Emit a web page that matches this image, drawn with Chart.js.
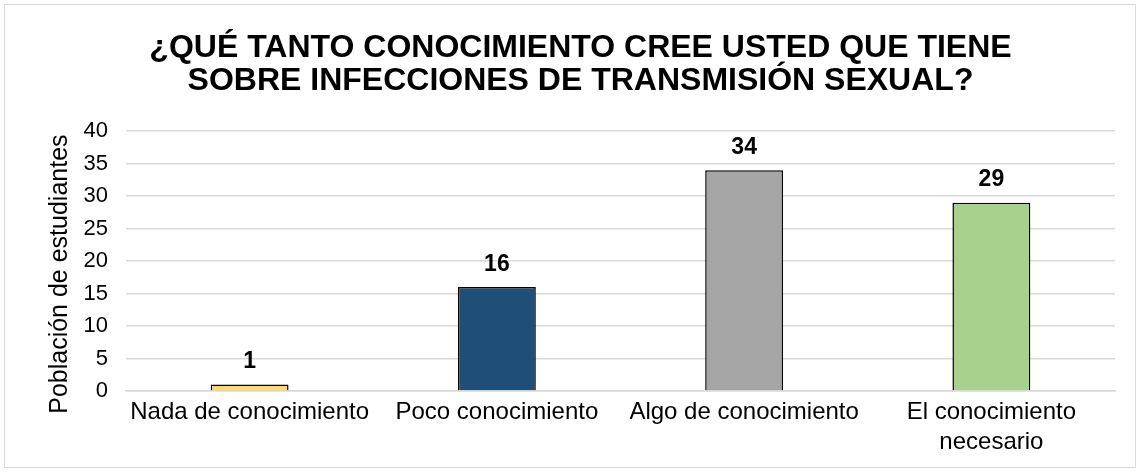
<!DOCTYPE html>
<html>
<head>
<meta charset="utf-8">
<script src="https://cdn.jsdelivr.net/npm/chart.js@4.4.0/dist/chart.umd.min.js"></script>
<style>
  html, body { margin: 0; padding: 0; background: #fff; }
  #wrap {
    position: absolute; left: 4px; top: 4px;
    width: 1130px; height: 462px;
    border: 1px solid #d9d9d9;
  }
</style>
</head>
<body>
<div id="wrap"><canvas id="chart"></canvas></div>
<script>
// chart data
const categories = ['Nada de conocimiento', 'Poco conocimiento', 'Algo de conocimiento', ['El conocimiento', 'necesario']];
const students = [1, 16, 34, 29];
const barColors = ['#FFD966', '#1F4E79', '#A5A5A5', '#A9D18E'];
const yTicks = { min: 0, max: 40, step: 5 };
const yAxisTitle = 'Población de estudiantes';

const FONT = '"Liberation Sans", Arial, sans-serif';

// draws the value above each bar
const valueLabels = {
    id: 'valueLabels',
    afterDatasetsDraw(chart) {
        const ctx = chart.ctx;
        const meta = chart.getDatasetMeta(0);
        ctx.save();
        ctx.font = 'bold 23px ' + FONT;
        ctx.fillStyle = '#000';
        ctx.textAlign = 'center';
        ctx.textBaseline = 'bottom';
        meta.data.forEach((bar, i) => {
            ctx.fillText(String(students[i]), bar.x, bar.y - 11);
        });
        ctx.restore();
    }
};

// y axis title, centred a bit lower than the plot (like the original)
const yTitle = {
    id: 'yTitle',
    afterDraw(chart) {
        const ctx = chart.ctx;
        const area = chart.chartArea;
        ctx.save();
        ctx.translate(55, (area.top + area.bottom) / 2 + 13);
        ctx.rotate(-Math.PI / 2);
        ctx.font = '25px ' + FONT;
        ctx.fillStyle = '#000';
        ctx.textAlign = 'center';
        ctx.textBaseline = 'middle';
        ctx.fillText(yAxisTitle, 0, 0);
        ctx.restore();
    }
};

new Chart(document.getElementById('chart'), {
    type: 'bar',
    data: {
        labels: categories,
        datasets: [{
            data: students,
            backgroundColor: barColors,
            borderColor: '#000',
            borderWidth: 1.5,
            barPercentage: 0.63,
            categoryPercentage: 0.5
        }]
    },
    options: {
        responsive: true,
        maintainAspectRatio: false,
        animation: false,
        layout: { padding: { left: 41, right: 20, top: 0, bottom: 4 } },
        plugins: {
            legend: { display: false },
            tooltip: { enabled: false },
            title: {
                display: true,
                text: ['¿QUÉ TANTO CONOCIMIENTO CREE USTED QUE TIENE', 'SOBRE INFECCIONES DE TRANSMISIÓN SEXUAL?'],
                color: '#000',
                font: { family: FONT, size: 32, weight: 'bold', lineHeight: 1.05 },
                padding: { top: 26, bottom: 33 }
            }
        },
        scales: {
            x: {
                grid: { display: false, drawTicks: false },
                border: { color: '#d9d9d9', width: 1.5 },
                ticks: {
                    color: '#000',
                    maxRotation: 0,
                    padding: 6,
                    font: { family: FONT, size: 24, lineHeight: 1.25 }
                },
                afterFit(scale) {
                    scale.paddingLeft = 0;
                    scale.paddingRight = 0;
                }
            },
            y: {
                min: yTicks.min,
                max: yTicks.max,
                ticks: {
                    stepSize: yTicks.step,
                    autoSkip: false,
                    color: '#000',
                    padding: 18,
                    font: { family: FONT, size: 22 }
                },
                grid: { color: '#d9d9d9', lineWidth: 1.5, drawTicks: false },
                border: { display: false },
                // fixed axis width: room for the title + tick labels + gap
                afterFit(scale) {
                    scale.width = 80;
                }
            }
        }
    },
    plugins: [valueLabels, yTitle]
});
</script>
</body>
</html>
